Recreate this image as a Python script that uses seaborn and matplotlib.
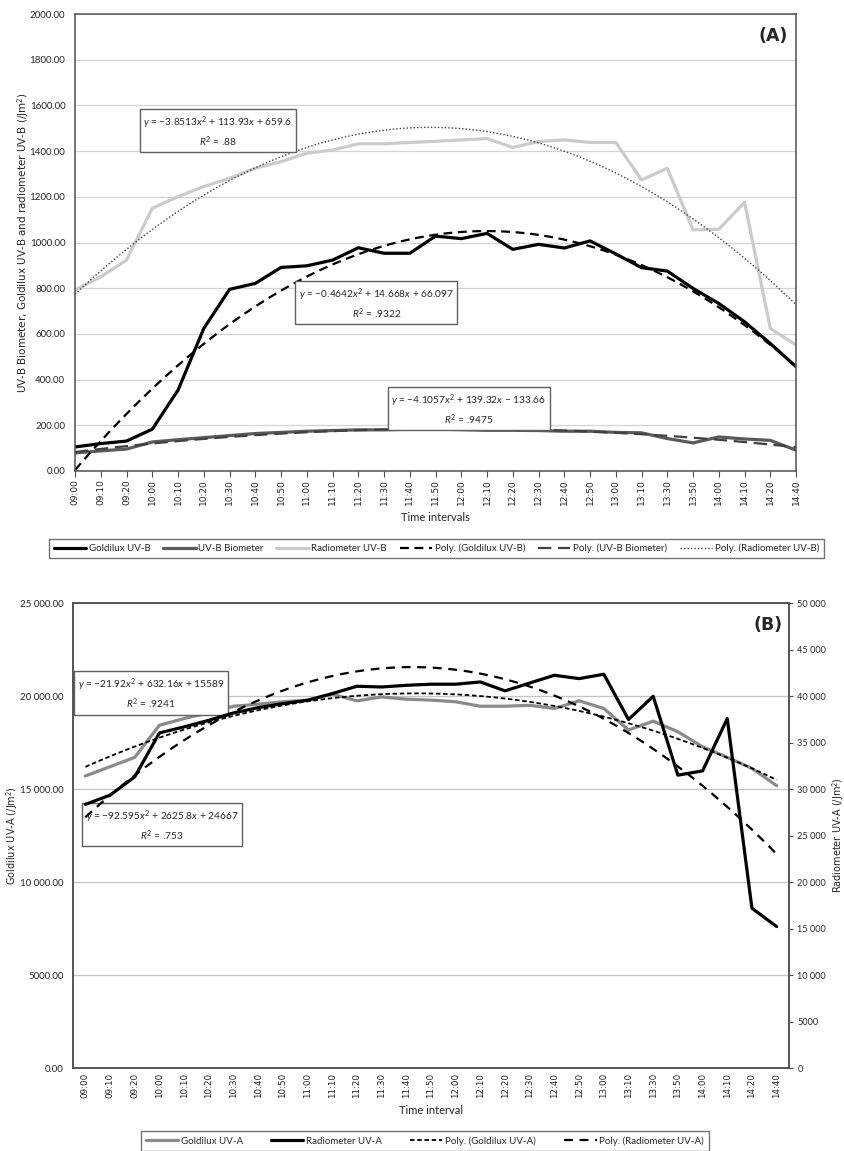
import numpy as np
import pandas as pd
import seaborn as sns
import matplotlib
matplotlib.use("Agg")
import matplotlib.pyplot as plt

# time categories (equally spaced on the chart)
times = ["09:00", "09:10", "09:20", "10:00", "10:10", "10:20", "10:30", "10:40", "10:50",
         "11:00", "11:10", "11:20", "11:30", "11:40", "11:50", "12:00", "12:10", "12:20",
         "12:30", "12:40", "12:50", "13:00", "13:10", "13:30", "13:50", "14:00", "14:10",
         "14:20", "14:40"]

# panel A, UV-B (J/m2)
goldilux_uvb = [105, 120, 131, 183, 354, 624, 795, 821, 891, 898, 923, 977, 953, 953, 1028,
                1017, 1040, 970, 992, 976, 1007, 950, 890, 875, 799, 733, 653, 558, 456]
biometer_uvb = [79, 88, 96, 127, 137, 146, 155, 164, 169, 174, 177, 180, 180, 183, 183,
                181, 178, 178, 177, 174, 174, 169, 167, 142, 123, 149, 140, 134, 91]
radiometer_uvb = [792, 850, 923, 1150, 1201, 1245, 1281, 1325, 1354, 1391, 1405, 1432, 1432,
                  1438, 1443, 1449, 1455, 1416, 1442, 1449, 1438, 1438, 1274, 1325, 1055,
                  1058, 1176, 624, 551]

# panel B, UV-A (J/m2)
goldilux_uva = [15700, 16200, 16700, 18430, 18790, 19100, 19450, 19560, 19690, 19780, 20100,
                19740, 19950, 19830, 19780, 19690, 19450, 19450, 19500, 19330, 19740, 19330,
                18170, 18650, 18080, 17270, 16700, 16110, 15180]
radiometer_uva = [28340, 29340, 31310, 36030, 36680, 37390, 38180, 38750, 39180, 39540, 40260,
                  41050, 40970, 41150, 41270, 41270, 41510, 40550, 41400, 42230, 41870, 42340,
                  37470, 39970, 31490, 31950, 37570, 17180, 15210]

eq_a = [r"$y$ = −3.8513$x^2$ + 113.93$x$ + 659.6" + "\n" + r"$R^2$ = .88",
        r"$y$ = −0.4642$x^2$ + 14.668$x$ + 66.097" + "\n" + r"$R^2$ = .9322",
        r"$y$ = −4.1057$x^2$ + 139.32$x$ − 133.66" + "\n" + r"$R^2$ = .9475"]
eq_b = [r"$y$ = −21.92$x^2$ + 632.16$x$ + 15589" + "\n" + r"$R^2$ = .9241",
        r"$y$ = −92.595$x^2$ + 2625.8$x$ + 24667" + "\n" + r"$R^2$ = .753"]

sns.set_style("white")
plt.rcParams["font.family"] = ["Lato", "DejaVu Sans"]
plt.rcParams["mathtext.fontset"] = "custom"
plt.rcParams["mathtext.rm"] = "Lato"
plt.rcParams["mathtext.it"] = "Lato:italic"
plt.rcParams["mathtext.bf"] = "Lato:bold"

df = pd.DataFrame({"pos": np.arange(len(times)), "time": times,
                   "gold_b": goldilux_uvb, "bio_b": biometer_uvb, "rad_b": radiometer_uvb,
                   "gold_a": goldilux_uva, "rad_a": radiometer_uva})

fig = plt.figure(figsize=(8.45, 11.51), dpi=100)
axA = fig.add_axes([0.0888, 0.5908, 0.8533, 0.397])
axB = fig.add_axes([0.0864, 0.0721, 0.8473, 0.404])
ax2 = axB.twinx()

grid_c = "#d4d4d4"
frame_c = "#505050"
box = dict(boxstyle="square,pad=0.35", fc="white", ec="#606060", lw=1)

# ---------- panel A ----------
sns.lineplot(data=df, x="pos", y="gold_b", ax=axA, color="black", lw=2.3, label="Goldilux UV-B", legend=False)
sns.lineplot(data=df, x="pos", y="bio_b", ax=axA, color="#5a5a5a", lw=2.3, label="UV-B Biometer", legend=False)
sns.lineplot(data=df, x="pos", y="rad_b", ax=axA, color="#cbcbcb", lw=2.3, label="Radiometer UV-B", legend=False)
sns.regplot(data=df, x="pos", y="gold_b", ax=axA, order=2, ci=None, scatter=False, truncate=True,
            label="Poly. (Goldilux UV-B)", line_kws=dict(color="black", lw=1.6, dashes=(4, 2.5)))
sns.regplot(data=df, x="pos", y="bio_b", ax=axA, order=2, ci=None, scatter=False, truncate=True,
            label="Poly. (UV-B Biometer)", line_kws=dict(color="#404040", lw=1.6, dashes=(6, 3)))
sns.regplot(data=df, x="pos", y="rad_b", ax=axA, order=2, ci=None, scatter=False, truncate=True,
            label="Poly. (Radiometer UV-B)", line_kws=dict(color="#404040", lw=1.0, dashes=(1, 1.5)))

axA.set_xlim(0, len(times) - 1)
axA.set_ylim(0, 2000)
axA.set_yticks(np.arange(0, 2001, 200))
axA.set_yticklabels([f"{v:.2f}" for v in np.arange(0, 2001, 200)], fontsize=7)
axA.set_xticks(df["pos"])
axA.set_xticklabels(times, rotation=90, fontsize=6.5, family="DejaVu Sans")
axA.yaxis.grid(True, color=grid_c, lw=0.9)
axA.set_axisbelow(True)
axA.tick_params(axis="x", bottom=True, length=4, width=0.8, color=frame_c, pad=2)
axA.tick_params(axis="y", left=False, pad=3.5)
for s in axA.spines.values():
    s.set_color(frame_c)
    s.set_linewidth(1.1)
axA.set_xlabel("Time intervals", fontsize=8, labelpad=5)
axA.set_ylabel("UV-B Biometer, Goldilux UV-B and radiometer UV-B (/Jm$^2$)", fontsize=7.5,
               family="DejaVu Sans")
axA.yaxis.set_label_coords(-0.06, 0.5)

axA.text(0.198, 0.743, eq_a[0], transform=axA.transAxes, ha="center", va="center", fontsize=7.3,
         linespacing=1.3, bbox=box)
axA.text(0.418, 0.3665, eq_a[1], transform=axA.transAxes, ha="center", va="center", fontsize=7.3,
         linespacing=1.3, bbox=box)
axA.text(0.546, 0.1346, eq_a[2], transform=axA.transAxes, ha="center", va="center", fontsize=7.3,
         linespacing=1.3, bbox=box)
axA.text(0.989, 0.952, "(A)", transform=axA.transAxes, ha="right", va="center", fontsize=12.5,
         fontweight="bold", family="DejaVu Sans")

hA, lA = axA.get_legend_handles_labels()
fig.legend(hA, lA, loc="center", bbox_to_anchor=(0.5166, 0.5235), ncol=6, fontsize=7,
           frameon=True, fancybox=False, edgecolor=frame_c, handlelength=3.3,
           handletextpad=0.3, columnspacing=1.3, borderpad=0.5)

# ---------- panel B ----------
sns.lineplot(data=df, x="pos", y="gold_a", ax=axB, color="#8a8a8a", lw=2.3, label="Goldilux UV-A", legend=False)
sns.regplot(data=df, x="pos", y="gold_a", ax=axB, order=2, ci=None, scatter=False, truncate=True,
            label="Poly. (Goldilux UV-A)", line_kws=dict(color="black", lw=1.3, dashes=(2.5, 1.5)))
sns.lineplot(data=df, x="pos", y="rad_a", ax=ax2, color="black", lw=2.3, label="Radiometer UV-A", legend=False)
sns.regplot(data=df, x="pos", y="rad_a", ax=ax2, order=2, ci=None, scatter=False, truncate=True,
            label="Poly. (Radiometer UV-A)", line_kws=dict(color="black", lw=1.6, dashes=(4, 3)))

axB.set_xlim(-0.5, len(times) - 0.5)
axB.set_ylim(0, 25000)
ax2.set_ylim(0, 50000)
left_ticks = np.arange(0, 25001, 5000)
axB.set_yticks(left_ticks)
axB.set_yticklabels([f"{v:,.2f}".replace(",", " ") if v >= 10000 else f"{v:.2f}" for v in left_ticks],
                    fontsize=7)
right_ticks = np.arange(0, 50001, 5000)
ax2.set_yticks(right_ticks)
ax2.set_yticklabels([f"{v:,d}".replace(",", " ") if v >= 10000 else f"{v:d}" for v in right_ticks],
                    fontsize=6.6)
axB.set_xticks(df["pos"])
axB.set_xticklabels(times, rotation=90, fontsize=6.3, family="DejaVu Sans")
axB.yaxis.grid(True, color="#c4c4c4", lw=0.9)
axB.set_axisbelow(True)
axB.tick_params(axis="x", bottom=False, pad=0)
axB.tick_params(axis="y", left=False, pad=3)
ax2.tick_params(axis="y", right=True, length=3, width=0.8, color=frame_c, pad=3)
for a in (axB, ax2):
    for s in a.spines.values():
        s.set_color(frame_c)
        s.set_linewidth(1.1)
axB.set_xlabel("Time interval", fontsize=8, labelpad=5)
axB.set_ylabel("Goldilux UV-A (/Jm$^2$)", fontsize=7, family="DejaVu Sans")
axB.yaxis.set_label_coords(-0.072, 0.5)
ax2.set_ylabel("Radiometer UV-A (/Jm$^2$)", fontsize=7, family="DejaVu Sans")
ax2.yaxis.set_label_coords(1.058, 0.5)

axB.text(0.109, 0.804, eq_b[0], transform=axB.transAxes, ha="center", va="center", fontsize=7.3,
         linespacing=1.3, bbox=box, zorder=5)
axB.text(0.124, 0.5215, eq_b[1], transform=axB.transAxes, ha="center", va="center", fontsize=7.3,
         linespacing=1.3, bbox=box, zorder=5)
ax2.text(0.9916, 0.9527, "(B)", transform=axB.transAxes, ha="right", va="center", fontsize=12.5,
         fontweight="bold", family="DejaVu Sans")

h1, l1 = axB.get_legend_handles_labels()
h2, l2 = ax2.get_legend_handles_labels()
hB = [h1[0], h2[0], h1[1], h2[1]]
lB = [l1[0], l2[0], l1[1], l2[1]]
fig.legend(hB, lB, loc="center", bbox_to_anchor=(0.503, 0.0087), ncol=4, fontsize=7,
           frameon=True, fancybox=False, edgecolor=frame_c, handlelength=3.3,
           handletextpad=0.3, columnspacing=2.9, borderpad=0.5)

fig.savefig("out.png", dpi=100)
